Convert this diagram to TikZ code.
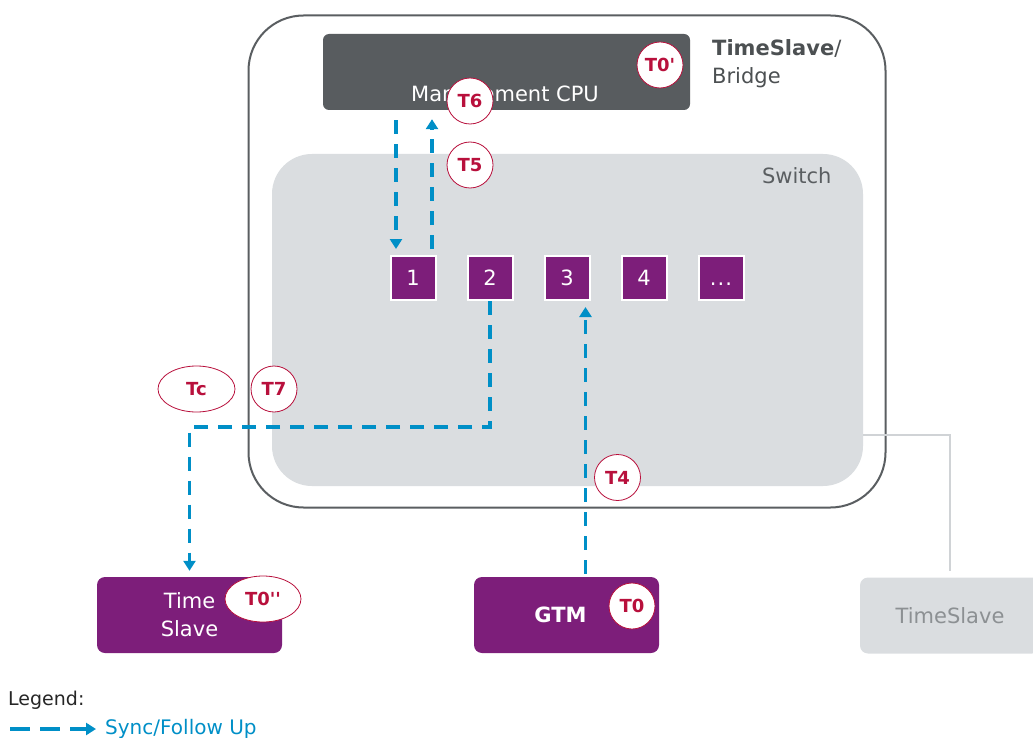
\documentclass[tikz,border=0pt]{standalone}
\usepackage{fontspec}
\setmainfont{DejaVu Sans}
\usetikzlibrary{shapes.geometric,arrows.meta,positioning}

\definecolor{portpurple}{RGB}{125,30,122}
\definecolor{cpugrey}{RGB}{88,92,95}
\definecolor{swgrey}{RGB}{218,221,224}
\definecolor{tapgrey}{RGB}{208,211,214}
\definecolor{syncblue}{RGB}{0,143,199}
\definecolor{stampred}{RGB}{184,16,60}
\definecolor{framegrey}{RGB}{90,94,97}
\definecolor{fadegrey}{RGB}{140,144,147}

\tikzset{
  big/.style={font=\fontsize{21}{28}\selectfont},
  port/.style={big, draw=white, line width=2pt, fill=portpurple, text=white,
    minimum width=45pt, minimum height=44pt, inner sep=0pt, text height=15pt, text depth=0pt},
  stamp/.style={circle, draw=stampred, line width=0.8pt, fill=white, text=stampred,
    minimum size=46pt, inner sep=0pt, font=\bfseries\fontsize{18}{20}\selectfont},
  endbox/.style={big, fill=portpurple, text=white, rounded corners=8pt, align=center,
    minimum width=185pt, minimum height=76pt},
  sync/.style={draw=syncblue, line width=3.5pt, dash pattern=on 14pt off 10pt,
    -{Triangle[width=12pt,length=10pt]}},
  tapline/.style={draw=tapgrey, line width=2pt}
}

\begin{document}
\begin{tikzpicture}[x=1pt, y=-1pt]
\useasboundingbox (0,0) rectangle (1033,738);

 % bridge and switch
 \node[draw=framegrey, line width=2pt, fill=white, rounded corners=55pt,
       minimum width=637pt, minimum height=492pt] (bridge) at (567,261.5) {};
 \node[big, anchor=base west, align=left, inner sep=0pt, text=framegrey!85!black]
       (bridgelabel) at (712,84) {\textbf{TimeSlave}/\\Bridge};
 \node[fill=swgrey, rounded corners=40pt, minimum width=591pt, minimum height=332pt]
       (switch) at (567.5,320) {};
 \node[big, anchor=east, text=framegrey] (switchlabel) at (835,176) {Switch};

 % management cpu
 \node[fill=cpugrey, rounded corners=6pt, minimum width=367pt, minimum height=76pt]
       (cpu) at (506.5,72) {};
 \node[big, text=white] (cpulabel) at (505,96) {Management CPU};

 % ports
 \foreach \i/\name/\n in {0/1/p1, 1/2/p2, 2/3/p3, 3/4/p4, 4/{.\kern1pt.\kern1pt.}/p5}
   \node[port] (\n) at (413+\i*77, 278) {\name};

 % end stations
 \node[endbox] (ts) at (189.5,615) {Time\\Slave};
 \node[endbox, font=\bfseries\fontsize{21}{28}\selectfont] (gtm) at (566.5,615) {GTM\hspace{12pt}};
 \node[endbox, fill=swgrey, text=fadegrey, minimum width=180pt] (ts2) at (950,615.5) {TimeSlave};

 % lines
 \coordinate (bend) at (189.5,427);
 \coordinate (tap) at (863,435);
 \draw[tapline, shorten >=6pt] (tap) -| (ts2.north);
 \draw[sync, shorten <=10pt, shorten >=6pt] ([xshift=-17pt]p1.north |- cpu.south) -- ([xshift=-17pt]p1.north);
 \draw[sync, shorten <=6pt, shorten >=9pt] ([xshift=19pt]p1.north) -- ([xshift=19pt]p1.north |- cpu.south);
 \draw[sync, shorten >=6pt] (p2.south) |- (bend) -- (ts.north);
 \draw[sync, shorten <=3pt, shorten >=6pt] ([xshift=19pt]gtm.north) -- ([xshift=19pt]gtm.north |- p3.south);

 % time stamps
 \node[stamp] (t0p) at (660,65) {T0\textquotesingle};
 \node[stamp] (t6) at (470,101) {T6};
 \node[stamp] (t5) at (470,165) {T5};
 \node[stamp, ellipse, minimum width=77pt] (tc) at (196.5,389) {Tc};
 \node[stamp] (t7) at (274,389) {T7};
 \node[stamp] (t4) at (617.5,477.5) {T4};
 \node[stamp, ellipse, minimum width=76pt] (t0pp) at (263,599) {T0\textquotesingle\textquotesingle};
 \node[stamp] (t0) at (632,606) {T0};

 % legend
 \node[anchor=west, inner sep=0pt, text=black!85, font=\fontsize{19}{22}\selectfont]
       (legend) at (8,700) {Legend:};
 \coordinate (lgstart) at (10,729);
 \node[anchor=west, inner sep=0pt, text=syncblue, font=\fontsize{20}{22}\selectfont]
       (lgtext) at (105,729) {Sync/Follow Up};
 \draw[sync, dash pattern=on 20pt off 10pt, shorten >=9pt] (lgstart) -- (lgtext.west);

\end{tikzpicture}
\end{document}
